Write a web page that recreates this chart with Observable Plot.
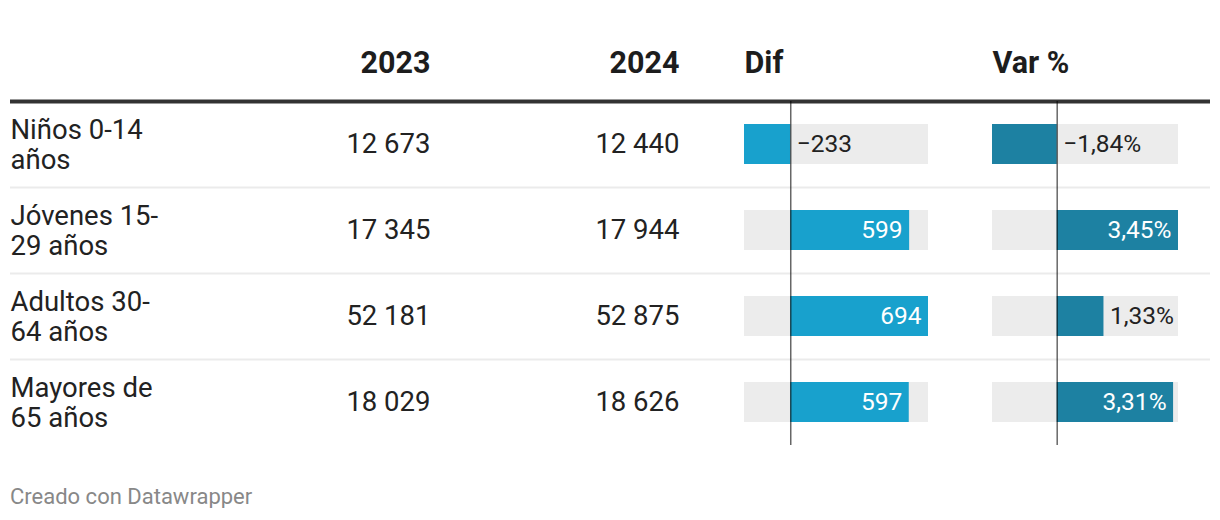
<!DOCTYPE html>
<html><head><meta charset="utf-8">
<script src="https://cdn.jsdelivr.net/npm/d3@7"></script>
<script src="https://cdn.jsdelivr.net/npm/@observablehq/plot@0.6"></script>
<style>
body{margin:0;background:#fff;font-family:Roboto,sans-serif;}
#wrap{position:relative;width:1220px;height:450px;}
#wrap > svg{position:absolute;top:0;overflow:visible;}
#caption{margin:36px 0 0 10px;font-size:22px;line-height:1;color:#888;font-family:Roboto,sans-serif;}
</style></head><body>
<div id="wrap"></div><div id="caption">Creado con Datawrapper</div>
<script>
// ---- data ----
const categories = ["Niños 0-14 años", "Jóvenes 15-29 años", "Adultos 30-64 años", "Mayores de 65 años"];
const values2023 = [12673, 17345, 52181, 18029];
const values2024 = [12440, 17944, 52875, 18626];
const dif = [-233, 599, 694, 597];
const varPct = [-1.84, 3.45, 1.33, 3.31];
const headers = ["2023", "2024", "Dif", "Var %"];

// ---- build ----
const rows = categories.map((c, i) => ({cat: c, y2023: values2023[i], y2024: values2024[i], dif: dif[i], varPct: varPct[i]}));
const locale = d3.formatLocale({decimal: ",", thousands: " ", grouping: [3], currency: ["", "€"], minus: "\u2212"});
const fmtInt = locale.format(",d");
const fmtPct = v => locale.format(".2f")(v) + "%";

const wrap = document.getElementById("wrap");
const H = 450, TOP = 101, BOTTOM = 5;
const band = (H - TOP - BOTTOM) / categories.length;
const yScale = {type: "band", domain: categories, padding: 0, axis: null};
const style = {fontFamily: "Roboto, sans-serif", background: "transparent", color: "#222", overflow: "visible"};
const BODY = 27.5, HEAD = 30.5, LABEL = 24.5, INSET = 23, LABEL_COL = 168;

// wrap row labels to the label column width (break at spaces and after hyphens)
const ctx = document.createElement("canvas").getContext("2d");
ctx.font = `${BODY}px Roboto`;
function wrapText(s, maxW) {
  const tokens = s.match(/[^\s-]+-?|\s+/g);
  const lines = []; let cur = "";
  for (const t of tokens) {
    const trial = cur + t;
    if (cur.trim() && ctx.measureText(trial.trimEnd()).width > maxW) { lines.push(cur.trimEnd()); cur = t.trimStart(); }
    else cur = trial;
  }
  if (cur.trim()) lines.push(cur.trimEnd());
  return lines.join("\n");
}

function place(svg, left) { svg.style.left = left + "px"; wrap.append(svg); }

// base: rules + row labels
place(Plot.plot({
  width: 1220, height: H, marginLeft: 10, marginRight: 10, marginTop: TOP, marginBottom: BOTTOM,
  y: yScale, style,
  marks: [
    Plot.ruleY(categories.slice(1), {y: d => d, dy: -band / 2, stroke: "#ebebeb", strokeWidth: 2}),
    Plot.ruleY([categories[0]], {y: d => d, dy: -band / 2, stroke: "#333", strokeWidth: 4}),
    Plot.text(rows, {y: "cat", text: d => wrapText(d.cat, LABEL_COL), frameAnchor: "left", textAnchor: "start", lineHeight: 1.09, fontSize: BODY, fill: "#222"})
  ]
}), 0);

// numeric columns
function numCol(key, head, left, w) {
  place(Plot.plot({
    width: w, height: H, marginLeft: 0, marginRight: 10, marginTop: TOP, marginBottom: BOTTOM,
    y: yScale, style,
    marks: [
      Plot.text([head], {frameAnchor: "top-right", textAnchor: "end", lineAnchor: "middle", dy: -38, fontSize: HEAD, fontWeight: "bold", fill: "#1d1d1d"}),
      Plot.text(rows, {y: "cat", text: d => fmtInt(d[key]), frameAnchor: "right", textAnchor: "end", fontSize: BODY, fill: "#222"})
    ]
  }), left);
}
numCol("y2023", headers[0], 250, 190);
numCol("y2024", headers[1], 440, 249);

// bar columns
function barCol(key, head, color, fmt, left, w, ml, mr) {
  const vals = rows.map(d => d[key]);
  const dom = d3.extent(vals);
  const pxPerUnit = (w - ml - mr) / (dom[1] - dom[0]);
  const fits = d => d[key] > 0 && d[key] * pxPerUnit > fmt(d[key]).length * 0.6 * LABEL + 14;
  place(Plot.plot({
    width: w, height: H, marginLeft: ml, marginRight: mr, marginTop: TOP, marginBottom: BOTTOM,
    x: {domain: dom, axis: null}, y: yScale, style,
    marks: [
      Plot.text([head], {frameAnchor: "top-left", textAnchor: "start", lineAnchor: "middle", dy: -38, fontSize: HEAD, fontWeight: "bold", fill: "#1d1d1d"}),
      Plot.barX(rows, {x1: dom[0], x2: dom[1], y: "cat", fill: "#ececec", insetTop: INSET, insetBottom: INSET}),
      Plot.barX(rows, {x1: 0, x2: key, y: "cat", fill: color, insetTop: INSET, insetBottom: INSET}),
      Plot.ruleX([0], {stroke: "#000", strokeOpacity: 0.6, strokeWidth: 1.5}),
      Plot.text(rows.filter(fits), {x: key, y: "cat", text: d => fmt(d[key]), textAnchor: "end", dx: -7, fill: "#fff", fontSize: LABEL}),
      Plot.text(rows.filter(d => d[key] > 0 && !fits(d)), {x: key, y: "cat", text: d => fmt(d[key]), textAnchor: "start", dx: 6, fill: "#222", fontSize: LABEL}),
      Plot.text(rows.filter(d => d[key] < 0), {x: 0, y: "cat", text: d => fmt(d[key]), textAnchor: "start", dx: 6, fill: "#222", fontSize: LABEL})
    ]
  }), left);
}
barCol("dif", headers[2], "#18a1cd", fmtInt, 689, 294, 55, 55);
barCol("varPct", headers[3], "#1d81a2", fmtPct, 983, 227, 9, 32);
</script>
</body></html>
